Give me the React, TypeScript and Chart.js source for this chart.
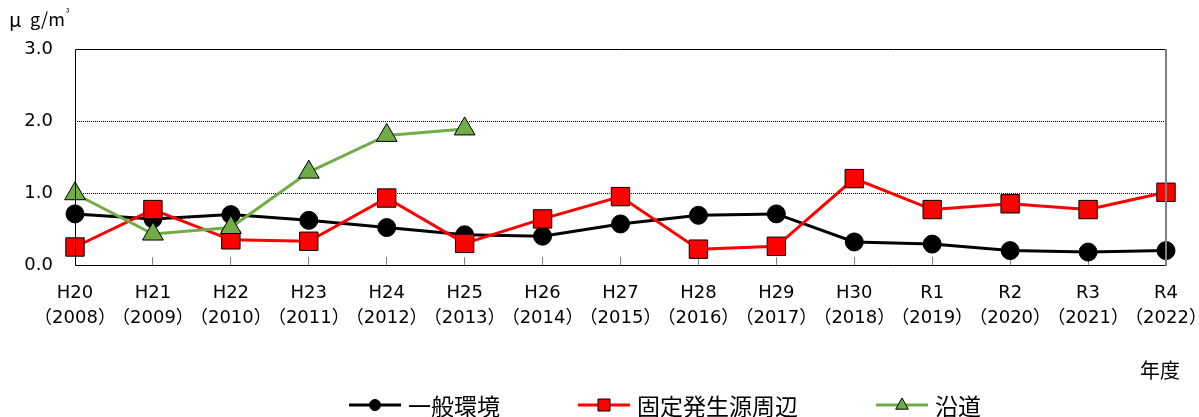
import React, { useEffect, useRef } from 'react';
import { Chart, registerables } from 'chart.js';

Chart.register(...registerables);

// ---- data ----
const categories = ['H20', 'H21', 'H22', 'H23', 'H24', 'H25', 'H26', 'H27', 'H28', 'H29', 'H30', 'R1', 'R2', 'R3', 'R4'];
const years = ['2008', '2009', '2010', '2011', '2012', '2013', '2014', '2015', '2016', '2017', '2018', '2019', '2020', '2021', '2022'];
const generalEnv = [0.71, 0.64, 0.70, 0.62, 0.52, 0.42, 0.40, 0.57, 0.69, 0.71, 0.32, 0.29, 0.20, 0.18, 0.20];
const fixedSource = [0.25, 0.77, 0.35, 0.33, 0.93, 0.30, 0.64, 0.95, 0.22, 0.26, 1.20, 0.77, 0.85, 0.77, 1.01];
const roadside = [0.99, 0.43, 0.52, 1.29, 1.80, 1.89, null, null, null, null, null, null, null, null, null];
const seriesNames = ['一般環境', '固定発生源周辺', '沿道'];
const yMin = 0;
const yMax = 3;
const yStep = 1;
const xAxisTitle = '年度';

const FONT = "'Noto Sans CJK JP', 'Noto Sans', sans-serif";
const NUM_FONT = "'DejaVu Sans', 'Noto Sans CJK JP', sans-serif";
const GREEN = '#70AD47';
const RED = '#FF0000';
const BLACK = '#000000';

function drawMarker(ctx: CanvasRenderingContext2D, style: string, x: number, y: number, r: number, fill: string) {
  ctx.save();
  ctx.fillStyle = fill;
  ctx.strokeStyle = '#000';
  ctx.lineWidth = 1;
  ctx.beginPath();
  if (style === 'circle') {
    ctx.arc(x, y, r, 0, Math.PI * 2);
  } else if (style === 'rect') {
    ctx.rect(x - r, y - r, 2 * r, 2 * r);
  } else {
    const h = r * 1.0;
    ctx.moveTo(x, y - h);
    ctx.lineTo(x + r * 0.9, y + h * 0.6);
    ctx.lineTo(x - r * 0.9, y + h * 0.6);
    ctx.closePath();
  }
  ctx.fill();
  ctx.stroke();
  ctx.restore();
}

const decorPlugin = {
  id: 'decor',
  afterDraw(chart: any) {
    const ctx: CanvasRenderingContext2D = chart.ctx;
    const a = chart.chartArea;
    const L = Math.round(a.left) + 0.5;
    const R = Math.round(a.right);
    const T = Math.round(a.top) + 0.5;
    const B = Math.round(a.bottom) + 0.5;
    ctx.save();
    ctx.lineWidth = 1;
    ctx.strokeStyle = '#000';
    ctx.beginPath();
    ctx.moveTo(L, T); ctx.lineTo(R, T);
    ctx.moveTo(L, T); ctx.lineTo(L, B);
    ctx.moveTo(L, B); ctx.lineTo(R, B);
    ctx.stroke();
    ctx.strokeStyle = '#808080';
    ctx.lineWidth = 2;
    ctx.beginPath();
    ctx.moveTo(R, T - 0.5); ctx.lineTo(R, B + 0.5);
    ctx.stroke();

    // unit label
    ctx.fillStyle = '#000';
    ctx.textBaseline = 'middle';
    ctx.textAlign = 'left';
    ctx.font = `20px ${FONT}`;
    ctx.fillText('μ', 9, 19);
    ctx.font = `18px ${FONT}`;
    ctx.fillText('g/m', 30, 19);
    const gw = ctx.measureText('g/m').width;
    ctx.font = `9px ${FONT}`;
    ctx.fillText('³', 30 + gw + 1, 13);

    // x axis title
    ctx.font = `20px ${FONT}`;
    ctx.textAlign = 'left';
    ctx.fillText(xAxisTitle, 1140, 370);

    // legend
    const styles = ['circle', 'rect', 'triangle'];
    const sizes = [5.5, 6, 7];
    const ly = 405;
    let x = 349;
    ctx.font = `23px ${FONT}`;
    chart.data.datasets.forEach((ds: any, i: number) => {
      ctx.strokeStyle = ds.borderColor;
      ctx.lineWidth = 3;
      ctx.beginPath();
      ctx.moveTo(x, ly);
      ctx.lineTo(x + 52, ly);
      ctx.stroke();
      drawMarker(ctx, styles[i], x + 26, ly, sizes[i], ds.pointBackgroundColor);
      ctx.fillStyle = '#000';
      ctx.textAlign = 'left';
      ctx.textBaseline = 'middle';
      ctx.fillText(ds.label, x + 59, ly + 1);
      x += 59 + ctx.measureText(ds.label).width + 78;
    });
    ctx.restore();
  },
};

export default function App() {
  const ref = useRef<HTMLCanvasElement | null>(null);

  useEffect(() => {
    document.body.style.margin = '0';
    const canvas = ref.current!;
    const chart = new Chart(canvas, {
      type: 'line',
      data: {
        labels: categories.map((c, i) => [c, `（${years[i]}）`]),
        datasets: [
          {
            label: seriesNames[0],
            data: generalEnv,
            borderColor: BLACK,
            backgroundColor: BLACK,
            pointBackgroundColor: BLACK,
            pointBorderColor: BLACK,
            pointStyle: 'circle',
            pointRadius: 9,
            pointBorderWidth: 1,
            borderWidth: 3,
            tension: 0,
            order: 2,
          },
          {
            label: seriesNames[1],
            data: fixedSource,
            borderColor: RED,
            backgroundColor: RED,
            pointBackgroundColor: RED,
            pointBorderColor: '#000',
            pointStyle: 'rect',
            pointRadius: 13,
            pointBorderWidth: 1,
            borderWidth: 3,
            tension: 0,
            order: 1,
          },
          {
            label: seriesNames[2],
            data: roadside,
            borderColor: GREEN,
            backgroundColor: GREEN,
            pointBackgroundColor: GREEN,
            pointBorderColor: '#000',
            pointStyle: 'triangle',
            pointRadius: 12,
            pointBorderWidth: 1,
            borderWidth: 3,
            tension: 0,
            spanGaps: false,
            order: 0,
          },
        ],
      },
      options: {
        responsive: false,
        animation: false,
        devicePixelRatio: 1,
        layout: { padding: { left: 0, right: 33, top: 49, bottom: 0 } },
        plugins: {
          legend: { display: false },
          tooltip: { enabled: false },
        },
        scales: {
          x: {
            type: 'category',
            offset: false,
            border: { display: false },
            grid: {
              display: true,
              drawOnChartArea: false,
              drawTicks: true,
              tickLength: -8,
              tickColor: '#808080',
              tickWidth: 1,
            },
            ticks: {
              color: '#000',
              font: { family: NUM_FONT, size: 18, lineHeight: 1.39 },
              padding: 24,
              maxRotation: 0,
              autoSkip: false,
            },
            afterFit: (s: any) => {
              s.height = 417 - 265;
              s.paddingLeft = 0;
              s.paddingRight = 0;
            },
          },
          y: {
            min: yMin,
            max: yMax,
            border: { display: false, dash: [1, 1] },
            grid: {
              drawTicks: false,
              color: (c: any) => (c.tick && (c.tick.value === 1 || c.tick.value === 2) ? '#000' : 'rgba(0,0,0,0)'),
              lineWidth: 1,
            },
            ticks: {
              stepSize: yStep,
              color: '#000',
              font: { family: NUM_FONT, size: 18 },
              padding: 22,
              callback: (v: any) => Number(v).toFixed(1),
            },
            afterFit: (s: any) => {
              s.width = 75;
              s.paddingTop = 0;
              s.paddingBottom = 0;
            },
          },
        },
      },
      plugins: [decorPlugin],
    } as any);
    return () => chart.destroy();
  }, []);

  return (
    <div style={{ width: 1199, height: 417, position: 'relative' }}>
      <canvas ref={ref} width={1199} height={417} style={{ display: 'block' }} />
    </div>
  );
}
